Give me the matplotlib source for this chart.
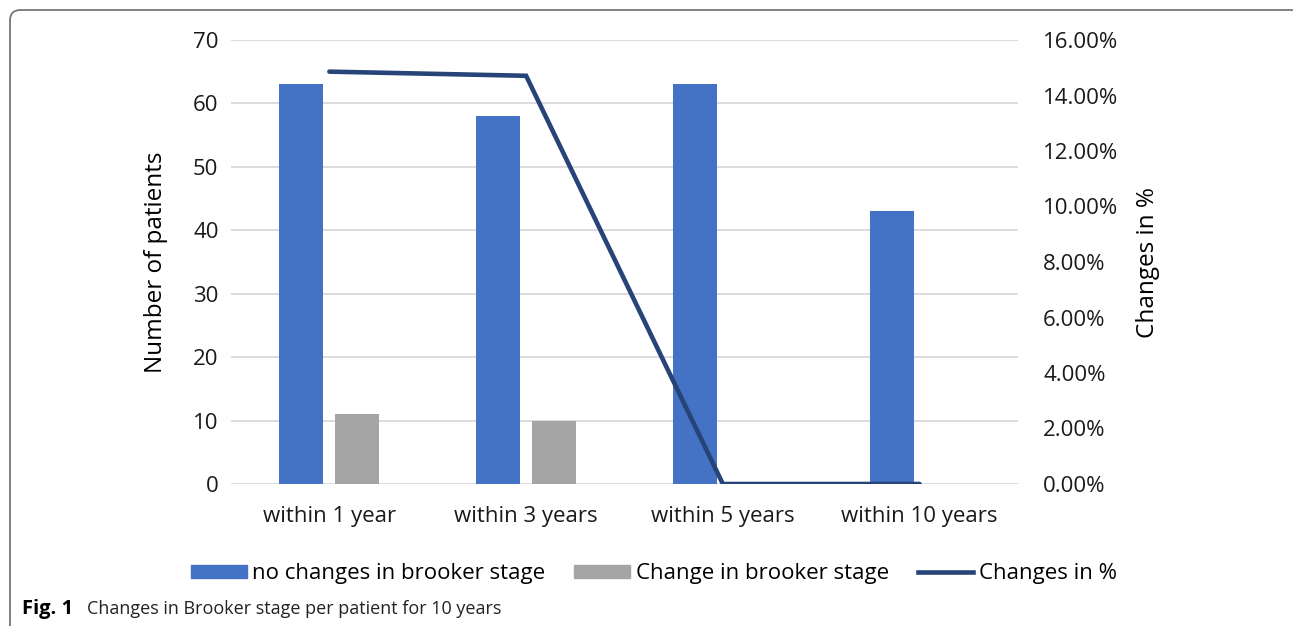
import matplotlib.pyplot as plt
from matplotlib.patches import FancyBboxPatch, Patch
from matplotlib.lines import Line2D
import matplotlib.ticker as mticker
import numpy as np

plt.rcParams['font.family'] = ['Open Sans', 'DejaVu Sans']

categories = ['within 1 year', 'within 3 years', 'within 5 years', 'within 10 years']
no_change = [63, 58, 63, 43]
changed = [11, 10, 0, 0]
change_pct = [14.86, 14.71, 0.0, 0.0]

blue = '#4472C4'
grey = '#A5A5A5'
navy = '#264478'

W, H = 1293, 626
fig = plt.figure(figsize=(W / 100, H / 100), dpi=100)
ax = fig.add_axes([231 / W, 1 - 484 / H, 787 / W, 444 / H])
ax2 = ax.twinx()

x = np.arange(len(categories))
w = 0.224
ax.bar(x - 0.142, no_change, w, color=blue, zorder=3)
ax.bar(x[:2] + 0.142, changed[:2], w, color=grey, zorder=3)

ax2.plot(x, change_pct, color=navy, lw=3.3, solid_capstyle='round', solid_joinstyle='miter', zorder=4)

ax.set_xlim(-0.5, 3.5)
ax.set_ylim(0, 70)
ax.set_yticks(range(0, 71, 10))
ax2.set_ylim(0, 16)
ax2.set_yticks(range(0, 17, 2))
ax2.yaxis.set_major_formatter(mticker.FuncFormatter(lambda v, p: f'{v:.2f}%'))

ax.set_xticks(x)
ax.set_xticklabels(categories)
ax.grid(axis='y', color='#D9D9D9', lw=1.3, zorder=0)
for a in (ax, ax2):
    for s in a.spines.values():
        s.set_visible(False)
    a.tick_params(length=0, labelsize=16, colors='#1a1a1a')
ax.tick_params(axis='y', pad=9)
ax2.tick_params(axis='y', pad=18)
ax.tick_params(axis='x', pad=16)

ax.set_ylabel('Number of patients', fontsize=17.5)
ax.yaxis.set_label_coords(-0.080, 0.5)
ax2.set_ylabel('Changes in %', fontsize=17.5, rotation=90)
ax2.yaxis.set_label_coords(1.150, 0.5)

handles = [Patch(color=blue), Patch(color=grey), Line2D([], [], color=navy, lw=3.3)]
labels = ['no changes in brooker stage', 'Change in brooker stage', 'Changes in %']
fig.legend(handles, labels, loc='center', bbox_to_anchor=(654 / W, 1 - 574 / H),
           ncol=3, frameon=False, fontsize=16, handlelength=2.5, handleheight=0.55,
           handletextpad=0.25, columnspacing=1.3)

fig.text(22 / W, 1 - 609 / H, 'Fig. 1', fontsize=14.5, fontweight='bold', va='center')
fig.text(87 / W, 1 - 609 / H, 'Changes in Brooker stage per patient for 10 years',
         fontsize=13, va='center', color='#222222')

border = FancyBboxPatch((10 / W, -0.1), 1320 / W, 1 - 10 / H + 0.1,
                        boxstyle='round,pad=0,rounding_size=0.008',
                        transform=fig.transFigure, fill=False, ec='#777777', lw=1.3,
                        mutation_aspect=W / H)
fig.patches.append(border)

fig.savefig('out.png', dpi=100)
